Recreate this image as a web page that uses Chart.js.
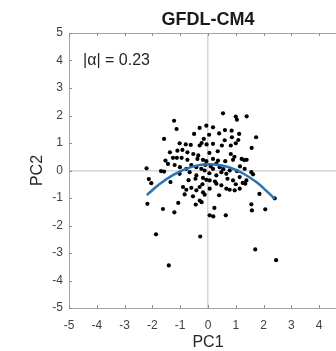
<!DOCTYPE html>
<html>
<head>
<meta charset="utf-8">
<script src="https://cdn.jsdelivr.net/npm/chart.js@4"></script>
<style>
  html, body { margin: 0; padding: 0; background: #fff; overflow: hidden; }
  #wrap { width: 380px; height: 351px; }
</style>
</head>
<body>
<div id="wrap"><canvas id="pcChart" width="380" height="351"></canvas></div>
<script>
// values
const pc1 = [0.54, -1.22, 1.00, 1.04, 1.39, -1.13, -0.06, -0.30, 0.18, 0.40, 0.61, -0.50, 0.04, 0.86, 1.12, 1.73,
  -1.58, -1.02, -0.62, -0.30, -0.23, 0.18, 0.50, 0.82, 1.00, 1.09, 1.57, -1.37, -1.10, -0.92, -0.74, -0.53, 0.05,
  0.82, 1.21, 1.39, -1.53, -1.44, -1.26, -1.12, -0.95, -0.74, -0.38, -0.18, -0.06, 0.18, 0.36, 0.62, 0.90, -2.21,
  -1.69, -1.58, -2.13, -2.04, -1.35, -1.01, -0.78, -0.42, -0.24, -0.12, 0.18, 0.42, 0.78, 1.04, 1.32, 1.56, 1.62,
  -1.02, -0.66, -0.42, -0.18, -0.06, 0.06, 0.30, 0.48, 0.66, 0.90, 1.14, 1.38, -0.90, -0.78, -0.60, -0.42, -0.30,
  -0.18, 0.06, 0.30, 0.48, 0.66, 0.78, 0.96, 1.14, 1.34, -0.84, -0.54, -0.12, -0.30, -2.18, -1.62, -1.21, -1.07,
  -0.44, -0.23, 0.23, 0.06, 0.19, 0.64, 1.56, 1.58, 2.06, 1.85, 2.40, -1.87, -0.28, -1.41, 1.70, 2.45,
  -0.60, -0.45, -0.10, 0.10, 0.30, 0.55, 0.70, -0.20, 0.05, 0.25, -0.35, 0.35, 0.60, -0.15, 1.15, 1.30, 0.95,
  -0.80, -0.70, 0.40, 1.00, -1.20, 0.85, -0.05, 1.25];
const pc2 = [2.08, 1.81, 1.96, 1.85, 1.97, 1.51, 1.63, 1.55, 1.57, 1.35, 1.47, 1.33, 1.30, 1.21, 1.33, 1.21,
  1.15, 0.99, 0.93, 0.91, 1.00, 0.97, 0.91, 0.91, 0.99, 1.11, 0.82, 0.66, 0.72, 0.75, 0.66, 0.60, 0.64,
  0.60, 0.42, 0.39, 0.36, 0.24, 0.46, 0.46, 0.46, 0.39, 0.42, 0.39, 0.34, 0.42, 0.36, 0.34, 0.39, 0.08,
  -0.02, -0.04, -0.31, -0.46, -0.42, 0.12, 0.06, 0.12, 0.06, 0.00, 0.06, 0.12, 0.00, -0.02, 0.06, -0.06, -0.14,
  -0.12, -0.06, -0.18, -0.27, -0.34, -0.36, -0.18, -0.06, -0.12, -0.36, -0.24, -0.36, -0.60, -0.70, -0.63, -0.72, -0.60,
  -0.79, -0.66, -0.48, -0.54, -0.66, -0.70, -0.72, -0.66, -0.48, -0.87, -0.94, -0.88, -1.09, -1.21, -1.40, -1.52, -1.18,
  -1.24, -1.15, -1.36, -1.63, -1.67, -1.63, -1.23, -1.45, -1.41, -0.85, -1.01, -2.32, -2.40, -3.45, -2.87, -3.26,
  0.20, -0.30, 0.20, 0.15, 0.25, 0.05, -0.30, -0.50, -0.10, -0.40, 0.55, 0.70, 1.10, 1.15, 0.15, 0.38, 0.50,
  0.95, -0.35, -0.90, -0.50, 0.20, 1.45, 0.95, -0.45];

// fitted curve
const fitX = [-2.2, -1.75, -1.25, -0.75, -0.25, 0.25, 0.75, 1.25, 1.75, 2.1, 2.4];
const fitY = [-0.89, -0.50, -0.16, 0.08, 0.21, 0.22, 0.12, -0.10, -0.43, -0.74, -1.03];

const tickVals = [-5, -4, -3, -2, -1, 0, 1, 2, 3, 4, 5];
const titleText = 'GFDL-CM4';
const alphaText = '|\u03B1| = 0.23';

const font = "'Liberation Sans', Arial, sans-serif";

const points = pc1.map((x, i) => ({ x: x, y: pc2[i] }));
const curve = fitX.map((x, i) => ({ x: x, y: fitY[i] }));

const extras = {
    id: 'extras',
    afterDraw(chart) {
        const c = chart.ctx;
        const a = chart.chartArea;
        const xs = chart.scales.x, ys = chart.scales.y;
        c.save();
        // top border + inward ticks
        c.strokeStyle = '#a6a6a6';
        c.lineWidth = 1;
        c.beginPath();
        c.moveTo(a.left, a.top + 0.5);
        c.lineTo(a.right, a.top + 0.5);
        c.stroke();
        c.strokeStyle = '#8c8c8c';
        c.beginPath();
        tickVals.forEach(v => {
            const px = Math.round(xs.getPixelForValue(v)) + 0.5;
            c.moveTo(px, a.bottom); c.lineTo(px, a.bottom - 3);
            c.moveTo(px, a.top); c.lineTo(px, a.top + 3);
            const py = Math.round(ys.getPixelForValue(v)) + 0.5;
            c.moveTo(a.left, py); c.lineTo(a.left + 3, py);
        });
        c.stroke();

        c.fillStyle = '#1a1a1a';
        c.textAlign = 'center';
        c.textBaseline = 'middle';
        c.font = 'bold 18px ' + font;
        c.fillText(titleText, (a.left + a.right) / 2, 20);

        c.fillStyle = '#262626';
        c.font = '16px ' + font;
        c.textAlign = 'left';
        c.fillText(alphaText, 83, 61);

        c.textAlign = 'center';
        c.fillText('PC1', (a.left + a.right) / 2, 343);
        c.translate(38, (a.top + a.bottom) / 2);
        c.rotate(-Math.PI / 2);
        c.fillText('PC2', 0, 0);
        c.restore();
    }
};

function zeroGrid(ctx) {
    return ctx.tick && ctx.tick.value === 0 ? '#d6d6d6' : 'rgba(0,0,0,0)';
}

new Chart(document.getElementById('pcChart'), {
    type: 'scatter',
    data: {
        datasets: [{
            type: 'line',
            data: curve,
            borderColor: '#2a73b5',
            borderWidth: 2.5,
            pointRadius: 0,
            tension: 0.4,
            fill: false
        }, {
            data: points,
            backgroundColor: '#000',
            borderColor: '#000',
            pointRadius: 2.1,
            borderWidth: 0
        }]
    },
    options: {
        responsive: false,
        animation: false,
        layout: { padding: { top: 33, right: 33, left: 0, bottom: 0 } },
        plugins: { legend: { display: false }, tooltip: { enabled: false } },
        scales: {
            x: {
                type: 'linear', min: -5, max: 5,
                afterFit: s => { s.height = 43; },
                ticks: { stepSize: 1, padding: 10, color: '#404040', font: { family: font, size: 12 } },
                grid: { color: zeroGrid, lineWidth: 1.5, drawTicks: false },
                border: { display: true, color: '#a6a6a6', width: 1 }
            },
            y: {
                type: 'linear', min: -5, max: 5,
                afterFit: s => { s.width = 69; },
                ticks: { stepSize: 1, padding: 6, color: '#404040', font: { family: font, size: 12 } },
                grid: { color: zeroGrid, lineWidth: 1.5, drawTicks: false },
                border: { display: true, color: '#a6a6a6', width: 1 }
            }
        }
    },
    plugins: [extras]
});
</script>
</body>
</html>
